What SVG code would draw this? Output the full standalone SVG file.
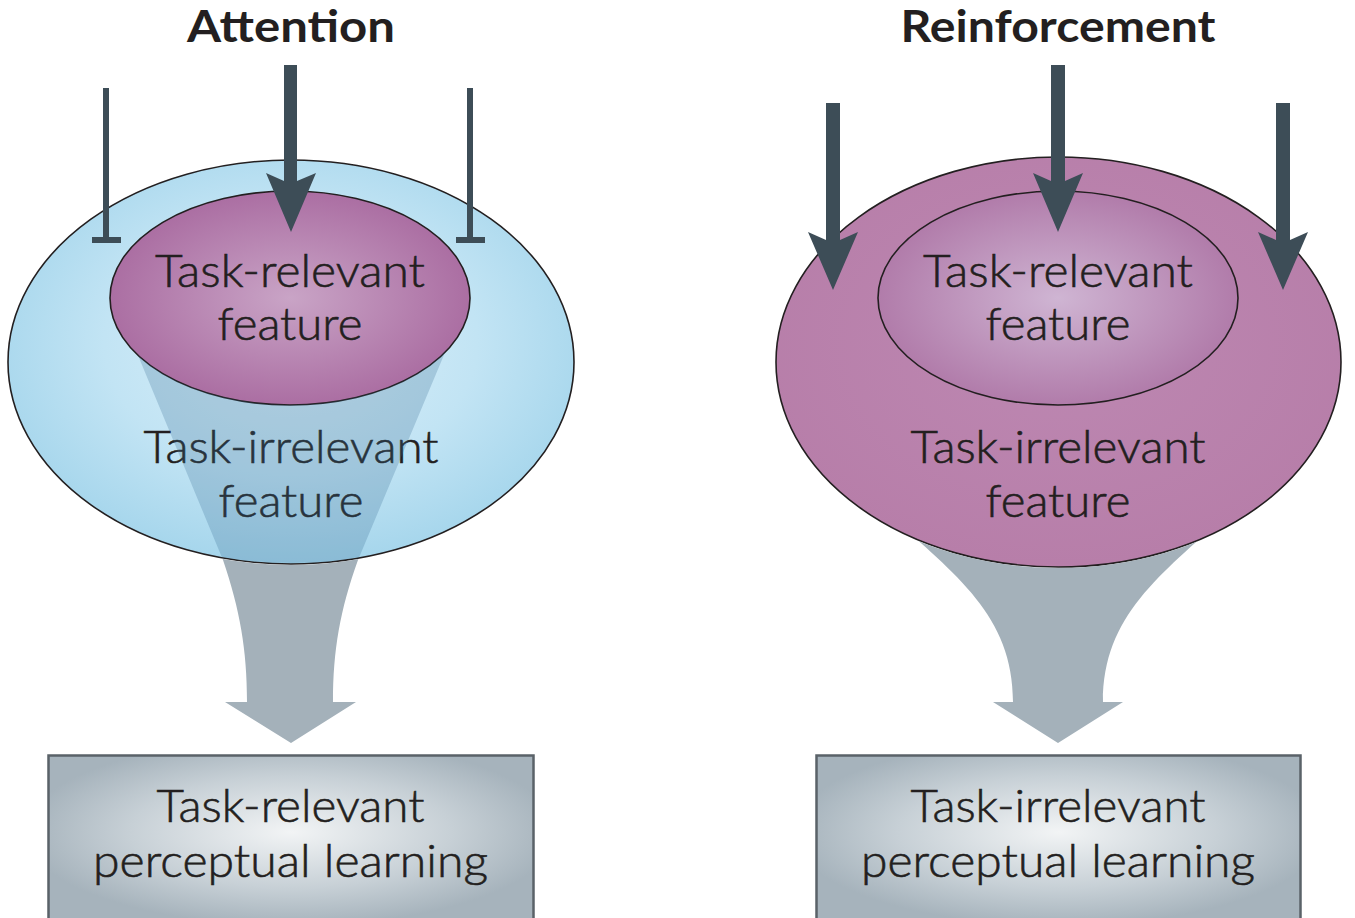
<svg xmlns="http://www.w3.org/2000/svg" width="1355" height="918" viewBox="0 0 1355 918">
<style>
.t{font-family:Lato,"Open Sans","DejaVu Sans",sans-serif;font-size:46px;font-weight:300;fill:#231f20;stroke:#231f20;stroke-width:0.6;text-anchor:middle}
.h{font-family:Lato,"Open Sans","DejaVu Sans",sans-serif;font-size:44px;font-weight:bold;fill:#231f20;text-anchor:middle}
.arr{fill:#3d4d57}
.edge{fill:none;stroke:#231f20;stroke-width:1.6}
.box{stroke:#5a6268;stroke-width:2.5;fill:url(#gBox)}
.fun{fill:#a4b1ba}
</style>
<defs>
<radialGradient id="gBlue" cx="0.5" cy="0.45" r="0.55">
<stop offset="0" stop-color="#dcf0f9"/>
<stop offset="0.6" stop-color="#c2e4f4"/>
<stop offset="1" stop-color="#a6d6ec"/>
</radialGradient>
<radialGradient id="gMagL" cx="0.5" cy="0.5" r="0.55">
<stop offset="0" stop-color="#c9a4c6"/>
<stop offset="1" stop-color="#a8699f"/>
</radialGradient>
<radialGradient id="gMagR" cx="0.5" cy="0.5" r="0.55">
<stop offset="0" stop-color="#cfb5d3"/>
<stop offset="1" stop-color="#ae76a6"/>
</radialGradient>
<radialGradient id="gMagO" cx="0.5" cy="0.45" r="0.55">
<stop offset="0" stop-color="#bd88b2"/>
<stop offset="1" stop-color="#b77ea9"/>
</radialGradient>
<radialGradient id="gBox" cx="0.5" cy="0.45" r="0.55">
<stop offset="0" stop-color="#f2f4f5"/>
<stop offset="0.6" stop-color="#c7d0d6"/>
<stop offset="1" stop-color="#a6b3bc"/>
</radialGradient>
<mask id="mOutL" maskUnits="userSpaceOnUse" x="0" y="0" width="1355" height="918">
<rect x="0" y="0" width="1355" height="918" fill="#fff"/>
<ellipse cx="291" cy="362" rx="284" ry="203" fill="#000"/>
</mask>
<mask id="mRingL" maskUnits="userSpaceOnUse" x="0" y="0" width="1355" height="918">
<ellipse cx="291" cy="362" rx="282" ry="201" fill="#fff"/>
<ellipse cx="290" cy="298" rx="180" ry="107" fill="#000"/>
</mask>
<mask id="mOutR" maskUnits="userSpaceOnUse" x="0" y="0" width="1355" height="918">
<rect x="0" y="0" width="1355" height="918" fill="#fff"/>
<ellipse cx="1058.5" cy="362" rx="283.5" ry="206" fill="#000"/>
</mask>
</defs>
<rect x="0" y="0" width="1355" height="918" fill="#fff"/>

<g id="title-attention"><text class="h" x="291" y="42" textLength="208" lengthAdjust="spacingAndGlyphs">Attention</text></g>
<g id="title-reinforcement"><text class="h" x="1058" y="42" textLength="315" lengthAdjust="spacingAndGlyphs">Reinforcement</text></g>

<g id="att-irrelevant">
<ellipse cx="291" cy="362" rx="283" ry="202" fill="url(#gBlue)"/>
<ellipse class="edge" cx="291" cy="362" rx="283" ry="202"/>
<text class="t" x="291" y="463" textLength="295" lengthAdjust="spacingAndGlyphs">Task-irrelevant</text>
<text class="t" x="291" y="517" textLength="145" lengthAdjust="spacingAndGlyphs">feature</text>
</g>
<g id="att-relevant">
<ellipse cx="290" cy="298" rx="180" ry="107" fill="url(#gMagL)"/>
<ellipse class="edge" cx="290" cy="298" rx="180" ry="107"/>
<text class="t" x="290" y="287" textLength="270" lengthAdjust="spacingAndGlyphs">Task-relevant</text>
<text class="t" x="290" y="340" textLength="145" lengthAdjust="spacingAndGlyphs">feature</text>
</g>

<g id="rein-irrelevant">
<ellipse cx="1058.5" cy="362" rx="282.5" ry="205" fill="url(#gMagO)"/>
<ellipse class="edge" cx="1058.5" cy="362" rx="282.5" ry="205"/>
<text class="t" x="1058" y="463" textLength="295" lengthAdjust="spacingAndGlyphs">Task-irrelevant</text>
<text class="t" x="1058" y="517" textLength="145" lengthAdjust="spacingAndGlyphs">feature</text>
</g>
<g id="rein-relevant">
<ellipse cx="1058" cy="298" rx="180" ry="107" fill="url(#gMagR)"/>
<ellipse class="edge" cx="1058" cy="298" rx="180" ry="107"/>
<text class="t" x="1058" y="287" textLength="270" lengthAdjust="spacingAndGlyphs">Task-relevant</text>
<text class="t" x="1058" y="340" textLength="145" lengthAdjust="spacingAndGlyphs">feature</text>
</g>

<g id="box-relevant-learning">
<rect class="box" x="48.5" y="755.5" width="485" height="170"/>
<text class="t" x="290.5" y="822" textLength="268" lengthAdjust="spacingAndGlyphs">Task-relevant</text>
<text class="t" x="290.5" y="877" textLength="395" lengthAdjust="spacingAndGlyphs">perceptual learning</text>
</g>
<g id="box-irrelevant-learning">
<rect class="box" x="816.5" y="755.5" width="484" height="170"/>
<text class="t" x="1058" y="822" textLength="295" lengthAdjust="spacingAndGlyphs">Task-irrelevant</text>
<text class="t" x="1058" y="877" textLength="394" lengthAdjust="spacingAndGlyphs">perceptual learning</text>
</g>

<g id="connectors">
<path class="fun" mask="url(#mOutL)" d="M115,300 L223,560 C240,610 247,650 247,702 L225,702 L291,743 L356,702 L333,702 C333,650 340,610 358,560 L467,300 Z"/>
<path mask="url(#mRingL)" fill="#366a92" fill-opacity="0.25" d="M115,300 L223,560 C240,610 247,650 247,702 L225,702 L291,743 L356,702 L333,702 C333,650 340,610 358,560 L467,300 Z"/>
<path class="fun" mask="url(#mOutR)" d="M890,515 C955,575 1013,615 1013,702 L993,702 L1058,743 L1123,702 L1103,702 C1103,615 1161,575 1226,515 Z"/>

<polygon class="arr" points="284,65 297,65 297,181 316,173 291,232 266,173 284,181"/>
<path class="arr" d="M103,88 h6 v149 h12 v6 h-29 v-6 h11 z"/>
<path class="arr" d="M467,88 h6 v149 h12 v6 h-29 v-6 h11 z"/>

<polygon class="arr" points="1051,65 1065,65 1065,181 1083,173 1058,232 1033,173 1051,181"/>
<polygon class="arr" points="826,103 840,103 840,240 858,232 833,290 808,232 826,240"/>
<polygon class="arr" points="1276,103 1290,103 1290,240 1308,232 1283,290 1258,232 1276,240"/>
</g>
</svg>
